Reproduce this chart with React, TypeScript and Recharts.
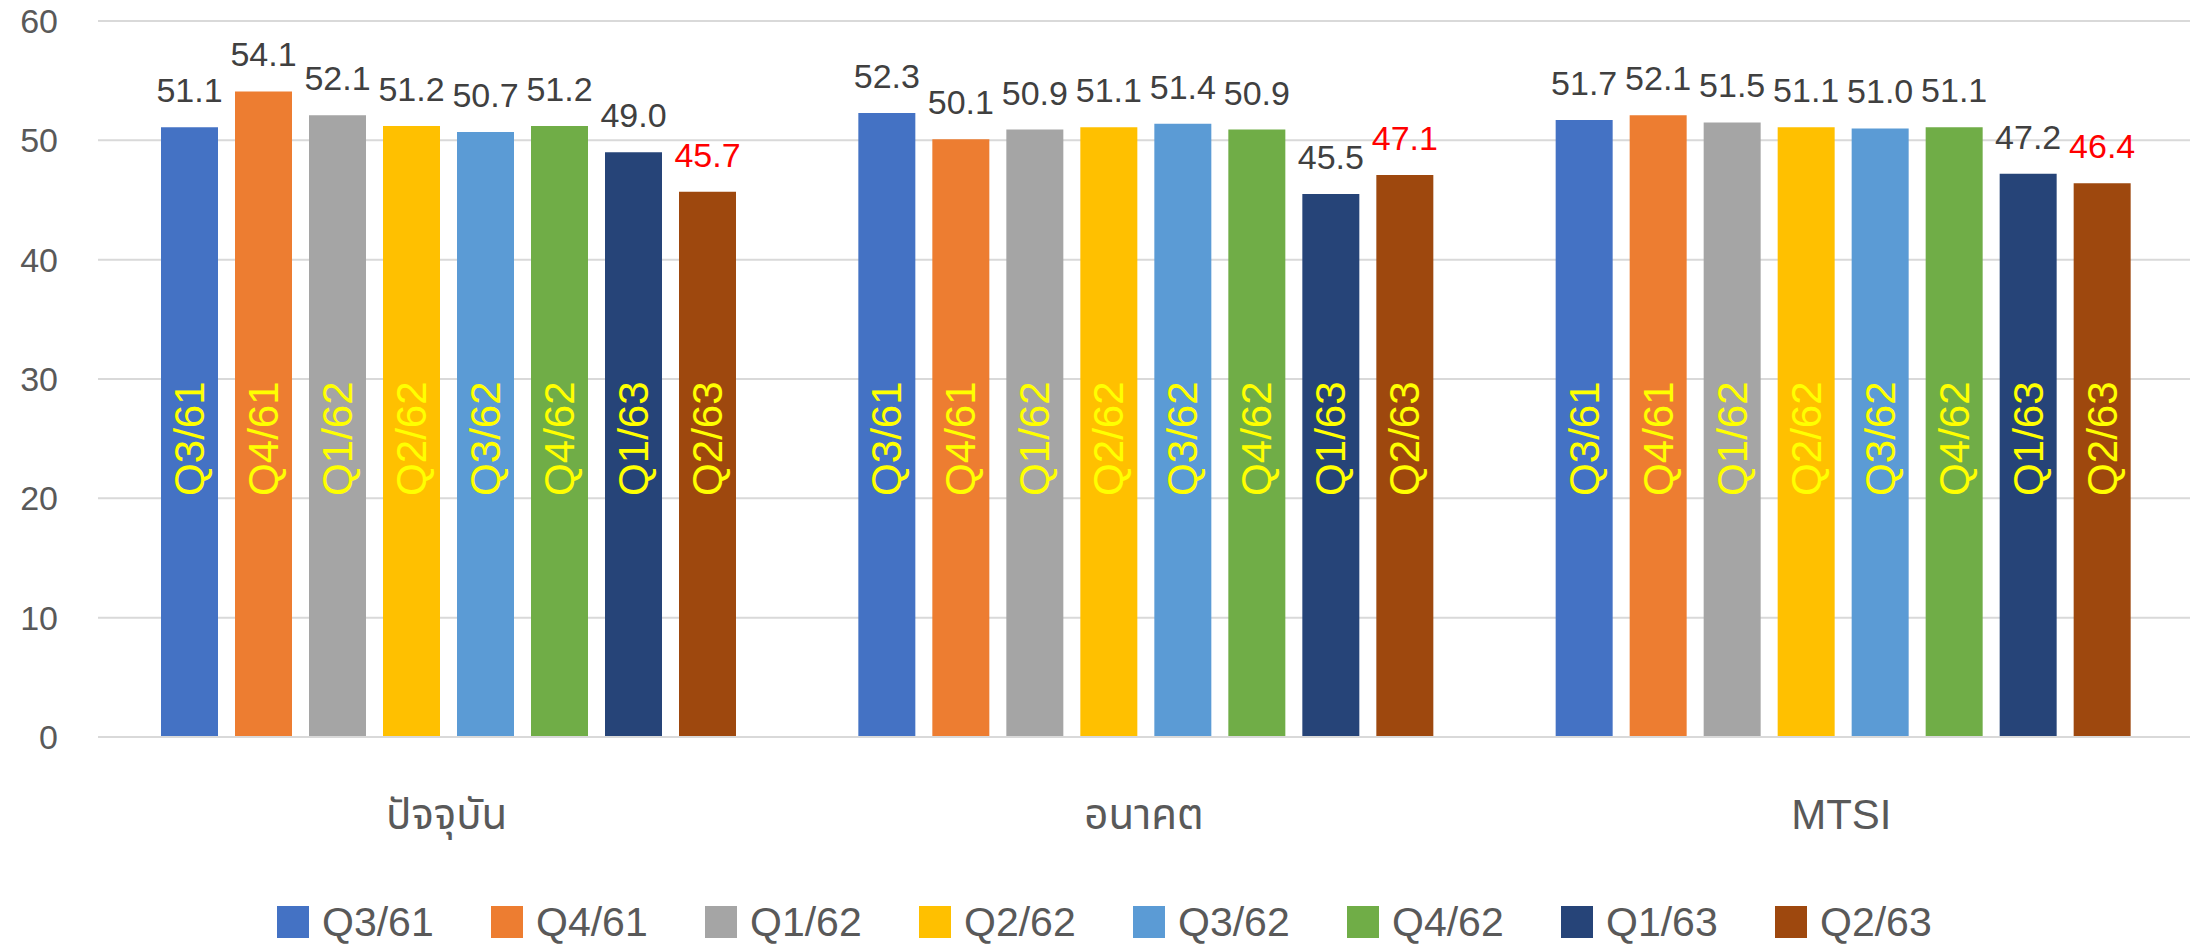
import React from 'react';
import { BarChart, Bar, XAxis, YAxis, CartesianGrid, Legend, LabelList } from 'recharts';

const categories = ['ปัจจุบัน', 'อนาคต', 'MTSI'];
const seriesNames = ['Q3/61', 'Q4/61', 'Q1/62', 'Q2/62', 'Q3/62', 'Q4/62', 'Q1/63', 'Q2/63'];
const seriesColors = ['#4472C4', '#ED7D31', '#A5A5A5', '#FFC000', '#5B9BD5', '#70AD47', '#264478', '#9E480E'];
const currentValues = [51.1, 54.1, 52.1, 51.2, 50.7, 51.2, 49.0, 45.7];
const futureValues = [52.3, 50.1, 50.9, 51.1, 51.4, 50.9, 45.5, 47.1];
const mtsiValues = [51.7, 52.1, 51.5, 51.1, 51.0, 51.1, 47.2, 46.4];
const yTicks = [0, 10, 20, 30, 40, 50, 60];
// axis value at which the rotated series-name labels are centred
const insideLabelLevel = 25;

const valuesByCategory = [currentValues, futureValues, mtsiValues];
const data = categories.map((cat, i) => {
  const row: Record<string, string | number> = { cat };
  seriesNames.forEach((s, j) => {
    row[s] = valuesByCategory[i][j];
  });
  return row;
});

const FONT = "'Liberation Sans', 'Noto Sans Thai', 'Noto Sans', 'DejaVu Sans', sans-serif";

const makeInsideLabel = (name: string) => (props: any) => {
  const { x, y, width, height, value } = props;
  const bottom = Number(y) + Number(height);
  const cx = Number(x) + Number(width) / 2;
  const cy = bottom - Number(height) * (insideLabelLevel / Number(value));
  return (
    <text
      x={cx}
      y={cy}
      transform={`rotate(-90 ${cx} ${cy})`}
      textAnchor="middle"
      dominantBaseline="central"
      fill="#FFFF00"
      fontSize={42}
      fontFamily={FONT}
    >
      {name}
    </text>
  );
};

const LegendContent = (props: any) => {
  const payload = [...(props.payload || [])].sort(
    (a: any, b: any) => seriesNames.indexOf(a.value) - seriesNames.indexOf(b.value)
  );
  return (
    <div style={{ display: 'flex', flexDirection: 'row', paddingLeft: 277, fontFamily: FONT }}>
      {payload.map((p: any) => (
        <div key={p.value} style={{ width: 214, display: 'flex', alignItems: 'center', height: 40 }}>
          <div style={{ width: 32, height: 32, background: p.color, marginRight: 13 }} />
          <span style={{ fontSize: 41, color: '#595959', lineHeight: '40px' }}>{p.value}</span>
        </div>
      ))}
    </div>
  );
};

export default function App() {
  return (
    <div style={{ position: 'absolute', left: 0, top: 0, width: 2190, height: 945, background: '#fff' }}>
      <BarChart
        width={2190}
        height={945}
        data={data}
        margin={{ top: 21, right: 0, left: 0, bottom: 108 }}
        barCategoryGap={63}
        barGap={17}
      >
        <CartesianGrid horizontal vertical={false} stroke="#D9D9D9" strokeWidth={2} />
        <XAxis
          dataKey="cat"
          height={100}
          tickLine={false}
          tickSize={0}
          tickMargin={62}
          axisLine={{ stroke: '#D9D9D9', strokeWidth: 2 }}
          tick={{ fill: '#595959', fontSize: 42, fontFamily: FONT }}
        />
        <YAxis
          width={98}
          domain={[0, 60]}
          ticks={yTicks}
          axisLine={false}
          tickLine={false}
          tickSize={0}
          tickMargin={40}
          tick={{ fill: '#595959', fontSize: 34, fontFamily: FONT }}
        />
        <Legend
          verticalAlign="middle"
          align="center"
          wrapperStyle={{ top: 902, left: 0, width: 2190 }}
          content={<LegendContent />}
        />
        {seriesNames.map((s, j) => (
          <Bar key={s} dataKey={s} fill={seriesColors[j]} isAnimationActive={false}>
            <LabelList dataKey={s} content={makeInsideLabel(s)} />
            <LabelList
              dataKey={s}
              position="top"
              offset={25}
              fill={j === 7 ? '#FF0000' : '#404040'}
              fontSize={34}
              fontFamily={FONT}
              formatter={(v: any) => Number(v).toFixed(1)}
            />
          </Bar>
        ))}
      </BarChart>
    </div>
  );
}
